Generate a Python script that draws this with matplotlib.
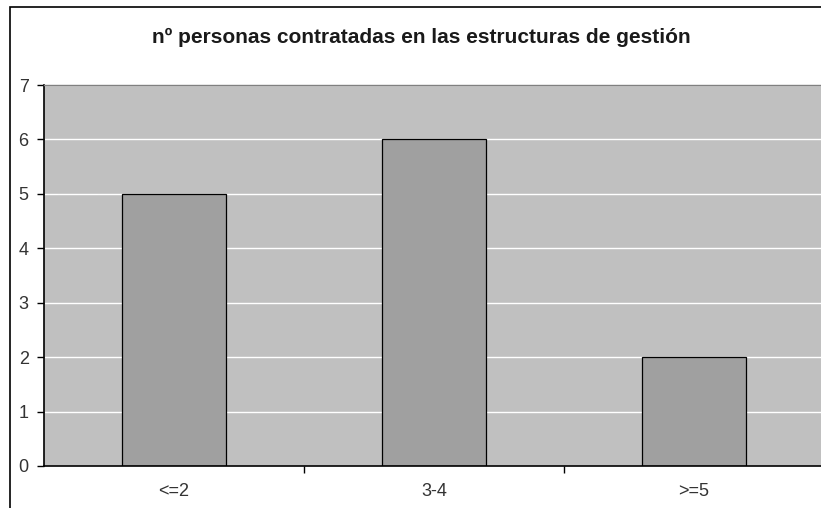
import matplotlib.pyplot as plt
from matplotlib.patches import Rectangle

# datos
categorias = ['<=2', '3-4', '>=5']
personas = [5, 6, 2]

plt.rcParams['font.family'] = ['Liberation Sans', 'DejaVu Sans']

fig = plt.figure(figsize=(8.21, 5.08), dpi=100)
W, H = 821, 508
ax = fig.add_axes([44 / W, (H - 466) / H, 780 / W, 381 / H])

# marco exterior del gráfico
fig.patches.append(Rectangle((10 / W, -0.1), 1.2, (H - 7) / H + 0.1,
                             transform=fig.transFigure, fill=False,
                             edgecolor='black', linewidth=1.2))

ax.set_facecolor('#c0c0c0')
ax.set_axisbelow(True)
ax.yaxis.grid(True, color='white', linewidth=1)

x = list(range(len(categorias)))
ax.bar(x, personas, width=0.4, color='#a0a0a0', edgecolor='black', linewidth=0.9)

ax.set_xlim(-0.5, len(categorias) - 0.5)
ax.set_ylim(0, 7)
ax.set_yticks(range(0, 8))
ax.set_xticks(x)
ax.set_xticklabels(categorias)
ax.set_xticks([i + 0.5 for i in x[:-1]], minor=True)

ax.tick_params(axis='y', direction='out', length=5, width=1, colors='black',
               labelcolor='#333333', labelsize=13, pad=6)
ax.tick_params(axis='x', which='major', length=0, labelcolor='#333333',
               labelsize=13, pad=12.5)
ax.tick_params(axis='x', which='minor', direction='out', length=5, width=1)

for lado in ['top', 'right']:
    ax.spines[lado].set_color('#808080')
    ax.spines[lado].set_linewidth(1)
for lado in ['left', 'bottom']:
    ax.spines[lado].set_color('black')
    ax.spines[lado].set_linewidth(1.2)

fig.text(421 / W, (H - 37) / H, 'nº personas contratadas en las estructuras de gestión',
         ha='center', va='center', fontsize=15, fontweight='bold', color='#1a1a1a')

fig.savefig('out.png', dpi=100, facecolor='white')
